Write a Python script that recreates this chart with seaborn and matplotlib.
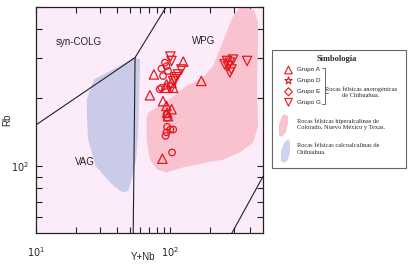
import numpy as np
import pandas as pd
import matplotlib.pyplot as plt
import seaborn as sns
from matplotlib.patches import Polygon, Rectangle
from matplotlib.ticker import LogLocator, NullFormatter, FixedLocator

# data (Y+Nb, Rb in ppm)
grupo_a_x = [126, 76, 71, 172, 89, 103, 88, 94.5, 95.5, 94.5, 103, 106, 92, 97]
grupo_a_y = [288, 253, 205, 237, 193, 178, 108, 184, 172, 229, 233, 221, 221, 166]

grupo_g_x = [101, 103, 122, 115, 109, 106, 112, 103, 297, 281, 272, 289, 281, 257, 268, 378]
grupo_g_y = [303, 290, 266, 253, 241, 236, 246, 221, 294, 285, 275, 266, 258, 280, 290, 290]

grupo_e_x = [86.7, 92, 94.5, 97, 89, 86.7, 84, 94.5, 95.5, 95.5, 106, 94.5, 93, 104, 101]
grupo_e_y = [268, 285, 275, 262, 249, 221, 218, 169, 163, 149, 145, 141, 136, 115, 145]

# fields (data coords)
wpg_field_x = [333, 373, 431, 456, 456, 448, 456, 418, 333, 250, 188, 126, 94, 80, 71, 67, 67, 69, 84, 106, 133, 177, 210, 236, 265, 297]
wpg_field_y = [497, 502, 480, 427, 349, 233, 150, 127, 115, 107, 104, 99, 94, 97, 107, 131, 161, 172, 184, 203, 225, 245, 275, 326, 386, 456]

vag_field_x = [24, 27, 55, 60, 59, 58, 56, 52, 49, 44, 38, 28, 24.5, 24]
vag_field_y = [197, 240, 300, 294, 200, 140, 107, 88, 78, 77, 82, 100, 131, 166]

# Pearce et al. (1984) boundaries
b1_x, b1_y = [2, 55, 400], [80, 300, 2000]
b2_x, b2_y = [55, 51.5, 50], [300, 8, 1]
b3_x, b3_y = [51.5, 2000], [8, 400]

df = pd.DataFrame({
    "YNb": grupo_a_x + grupo_g_x + grupo_e_x,
    "Rb": grupo_a_y + grupo_g_y + grupo_e_y,
    "grupo": ["A"] * len(grupo_a_x) + ["G"] * len(grupo_g_x) + ["E"] * len(grupo_e_x),
})

sns.set_style("ticks")
plt.rcParams["font.family"] = ["Liberation Sans", "DejaVu Sans"]

fig = plt.figure(figsize=(4.08, 2.69), dpi=100)
ax = fig.add_axes([36 / 408, 36 / 269, 227 / 408, 226 / 269])
ax.set_facecolor("#fcecfa")
ax.set_xscale("log")
ax.set_yscale("log")
ax.set_xlim(10, 497)
ax.set_ylim(51, 500)

ax.add_patch(Polygon(list(zip(wpg_field_x, wpg_field_y)), closed=True, fc="#f9c2cf", ec="none", zorder=1))
ax.add_patch(Polygon(list(zip(vag_field_x, vag_field_y)), closed=True, fc="#cacbe8", ec="none", zorder=1))

for bx, by in [(b1_x, b1_y), (b2_x, b2_y), (b3_x, b3_y)]:
    ax.plot(bx, by, color="#222222", lw=0.8, zorder=2)

sns.scatterplot(data=df[df.grupo == "A"], x="YNb", y="Rb", marker="^", s=45,
                facecolor="none", edgecolor="#e8141b", linewidth=0.9, ax=ax, zorder=3)
sns.scatterplot(data=df[df.grupo == "E"], x="YNb", y="Rb", marker="o", s=22,
                facecolor="none", edgecolor="#e8141b", linewidth=0.9, ax=ax, zorder=3)
sns.scatterplot(data=df[df.grupo == "G"], x="YNb", y="Rb", marker="v", s=45,
                facecolor="none", edgecolor="#e8141b", linewidth=0.9, ax=ax, zorder=3)

ax.text(21, 350, "syn-COLG", fontsize=7, ha="center", va="center", color="#222222")
ax.text(179, 353, "WPG", fontsize=7, ha="center", va="center", color="#222222")
ax.text(23, 104, "VAG", fontsize=7, ha="center", va="center", color="#222222")

ax.xaxis.set_major_locator(FixedLocator([10, 100]))
ax.set_xticklabels(["$10^{1}$", "$10^{2}$"])
ax.xaxis.set_minor_locator(LogLocator(base=10, subs=np.arange(2, 10)))
ax.xaxis.set_minor_formatter(NullFormatter())
ax.yaxis.set_major_locator(FixedLocator([100]))
ax.set_yticklabels(["$10^{2}$"])
ax.yaxis.set_minor_locator(LogLocator(base=10, subs=np.arange(2, 10)))
ax.yaxis.set_minor_formatter(NullFormatter())
ax.tick_params(which="both", direction="in", top=True, right=True, length=4, width=0.8,
               labelsize=7, color="#222222")
ax.tick_params(axis="x", pad=9)
ax.tick_params(axis="y", pad=5)
ax.set_xlabel("Y+Nb", fontsize=7)
ax.set_ylabel("Rb", fontsize=7)
ax.xaxis.set_label_coords(0.47, -0.085)
ax.yaxis.set_label_coords(-0.105, 0.5)
for s in ax.spines.values():
    s.set_linewidth(0.9)
    s.set_color("#222222")

# legend panel (figure pixel coords)
lax = fig.add_axes([0, 0, 1, 1])
lax.set_xlim(0, 408)
lax.set_ylim(269, 0)
lax.axis("off")
lax.patch.set_alpha(0)

lax.add_patch(Rectangle((271.5, 50), 134.5, 118, fc="white", ec="#666666", lw=0.8))
serif = ["Liberation Serif", "DejaVu Serif"]
lax.text(337, 59, "Simbología", fontsize=6, fontweight="bold", family=serif, ha="center", va="center")

labels = ["Grupo A", "Grupo D", "Grupo E", "Grupo G"]
marks = ["^", "*", "D", "v"]
rows = [70, 80.7, 91.7, 102.3]
for lab, mk, ry in zip(labels, marks, rows):
    lax.scatter([288.5], [ry], marker=mk, s=30 if mk != "D" else 16, fc="none", ec="#e8141b", lw=0.8)
    lax.text(297, ry, lab, fontsize=4.5, ha="left", va="center", color="#222222")

lax.plot([322, 325, 325, 322], [68, 68, 104, 104], color="#555555", lw=0.6)
lax.plot([325, 328], [93, 93], color="#555555", lw=0.6)
lax.text(361, 92.5, "Rocas félsicas anorogénicas\nde Chihuahua.", fontsize=4.6, family=serif,
         ha="center", va="center", linespacing=1.2)

lax.add_patch(Polygon([(284, 114), (288, 116), (288, 124), (286, 132), (282, 137), (279, 135), (279, 125), (281, 118)],
                      closed=True, fc="#f9c2cf", ec="none"))
lax.text(297, 124, "Rocas félsicas hiperalcalinas de\nColorado, Nuevo México y Texas.", fontsize=4.6,
         family=serif, ha="left", va="center", linespacing=1.3)

lax.add_patch(Polygon([(288, 139), (290, 142), (290, 152), (288, 160), (284, 163), (281, 161), (281, 151), (284, 143)],
                      closed=True, fc="#cfd4ee", ec="none"))
lax.text(297, 149, "Rocas félsicas calcoalcalinas de\nChihuahua.", fontsize=4.6,
         family=serif, ha="left", va="center", linespacing=1.3)

fig.savefig("out.png", dpi=100)
